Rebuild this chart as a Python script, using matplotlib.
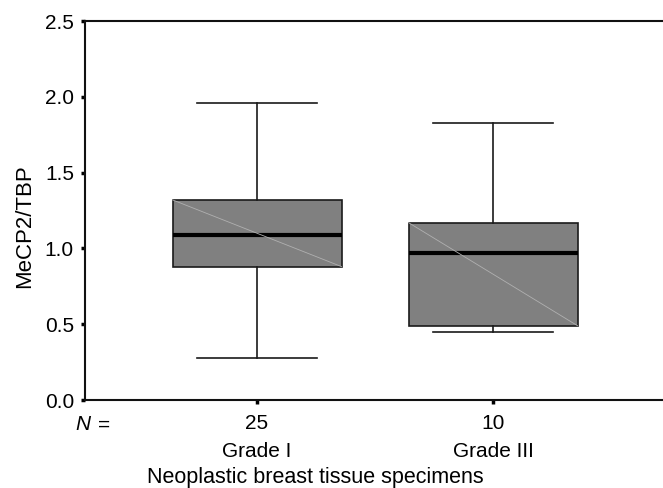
import matplotlib.pyplot as plt
import numpy as np

plt.rcParams['font.family'] = ['Liberation Sans', 'DejaVu Sans']

# Box plot summary values
groups = ['Grade I', 'Grade III']
n_counts = [25, 10]
whisker_low = [0.28, 0.45]
q1 = [0.88, 0.49]
median = [1.09, 0.97]
q3 = [1.32, 1.17]
whisker_high = [1.96, 1.83]

stats = []
for i in range(len(groups)):
    stats.append({'label': groups[i], 'whislo': whisker_low[i], 'q1': q1[i],
                  'med': median[i], 'q3': q3[i], 'whishi': whisker_high[i]})

fig = plt.figure(figsize=(6.63, 4.88), dpi=100)
ax = fig.add_axes([0.1282, 0.1803, 0.8718, 0.7766])

positions = np.arange(1, len(groups) + 1)
box_w = 0.716
ax.bxp(stats, positions=positions, widths=box_w, capwidths=0.508,
       showfliers=False, patch_artist=True,
       boxprops=dict(facecolor='#808080', edgecolor='#1a1a1a', linewidth=1.2),
       medianprops=dict(color='black', linewidth=3),
       whiskerprops=dict(color='#1a1a1a', linewidth=1.2),
       capprops=dict(color='#1a1a1a', linewidth=1.2))

# faint diagonal across each box (as in the reference render)
for p, lo, hi in zip(positions, q1, q3):
    ax.plot([p - box_w / 2, p + box_w / 2], [hi, lo], color='#b0b0b0',
            linewidth=0.6, zorder=3)

ax.set_xlim(0.271, 2.72)
ax.set_ylim(0, 2.5)
ax.set_yticks([0, 0.5, 1.0, 1.5, 2.0, 2.5])
ax.set_yticklabels(['0.0', '0.5', '1.0', '1.5', '2.0', '2.5'], fontsize=15)
ax.set_xticks(positions)
ax.set_xticklabels([])
ax.tick_params(axis='both', length=3, width=2.5, direction='out', pad=5)
ax.spines['right'].set_visible(False)
for s in ['left', 'bottom', 'top']:
    ax.spines[s].set_linewidth(1.5)
    ax.spines[s].set_color('#111111')

fig.text(25 / 663, 1 - 226 / 488, 'MeCP2/TBP', rotation=90,
         ha='center', va='center', fontsize=16)

# N row and group names under the axis
tr = ax.get_xaxis_transform()
for p, n, g in zip(positions, n_counts, groups):
    ax.text(p, -0.063, str(n), transform=tr, ha='center', va='center', fontsize=15)
    ax.text(p, -0.135, g, transform=tr, ha='center', va='center', fontsize=15)
fig.text(75 / 663, 1 - 425 / 488, 'N', style='italic', ha='left', va='center', fontsize=15)
fig.text(110 / 663, 1 - 425 / 488, '=', ha='right', va='center', fontsize=15)

fig.text(315 / 663, 1 - 477 / 488, 'Neoplastic breast tissue specimens',
         ha='center', va='center', fontsize=15.5)

fig.savefig('out.png', dpi=100)
